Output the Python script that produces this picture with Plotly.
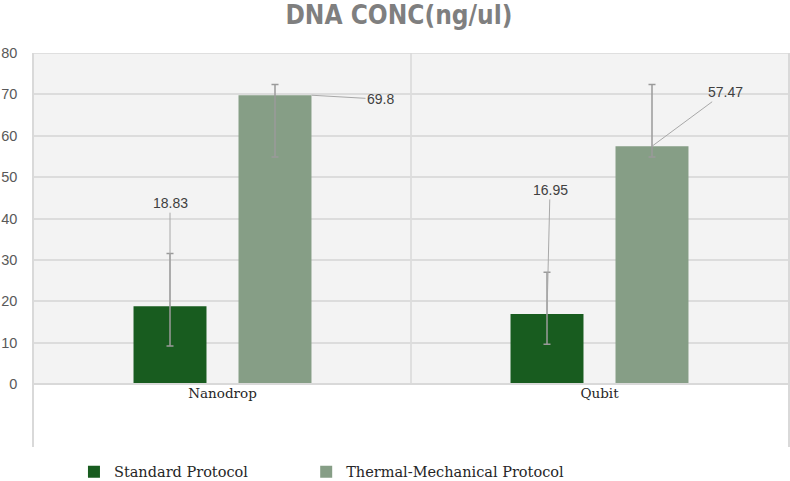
import plotly.graph_objects as go

categories = ["Nanodrop", "Qubit"]
series_names = ["Standard Protocol", "Thermal-Mechanical Protocol"]
standard_vals = [18.83, 16.95]
thermal_vals = [69.8, 57.47]
standard_err_plus = [12.7, 10.1]
standard_err_minus = [9.6, 7.3]
thermal_err_plus = [2.6, 14.9]
thermal_err_minus = [14.9, 2.6]
y_ticks = [0, 10, 20, 30, 40, 50, 60, 70, 80]

colors = ["#185c1f", "#869e86"]
err_style = dict(type="data", symmetric=False, color="#9a9a9a", thickness=1.5, width=3.5)

fig = go.Figure()
fig.add_trace(go.Bar(
    x=categories, y=standard_vals, name=series_names[0], legend="legend",
    marker=dict(color=colors[0], line=dict(width=0)),
    error_y=dict(array=standard_err_plus, arrayminus=standard_err_minus, **err_style),
))
fig.add_trace(go.Bar(
    x=categories, y=thermal_vals, name=series_names[1], legend="legend2",
    marker=dict(color=colors[1], line=dict(width=0)),
    error_y=dict(array=thermal_err_plus, arrayminus=thermal_err_minus, **err_style),
))

ymin = -15.2
ymax = 80

label_font = dict(family="Liberation Sans, Arial, sans-serif", size=14, color="#404040")
line_col = "#a8a8a8"
# data labels with leader lines (offsets in px)
label_specs = [
    (0, 0, standard_vals[0], -52.5, 0, -103),
    (0, 1, thermal_vals[0], 89, 69, 4),
    (1, 0, standard_vals[1], -52.5, 3, -124),
    (1, 1, thermal_vals[1], 52.5, 73, -54),
]
for ci, si, val, xs, ax, ay in label_specs:
    fig.add_annotation(
        x=categories[ci], y=val, xref="x", yref="y", xshift=xs,
        text=f"{val:g}", showarrow=True, arrowhead=0, arrowwidth=1,
        arrowcolor=line_col, ax=ax, ay=ay, font=label_font,
        standoff=0, startstandoff=0,
    )

shapes = [
    # hatched-looking background above zero
    dict(type="rect", xref="paper", yref="y", x0=0, x1=1, y0=0, y1=ymax,
         fillcolor="#f3f3f3", line=dict(width=0), layer="below"),
    # category separator
    dict(type="line", xref="x", yref="y", x0=0.5, x1=0.5, y0=0, y1=ymax,
         line=dict(color="#d9d9d9", width=1.5), layer="below"),
    # top border
    dict(type="line", xref="paper", yref="y", x0=0, x1=1, y0=ymax, y1=ymax,
         line=dict(color="#d9d9d9", width=1.5), layer="below"),
]

legend_common = dict(orientation="h", xanchor="left", y=-0.063, yanchor="middle",
                     font=dict(family="DejaVu Serif, serif", size=14.5, color="#262626"),
                     itemwidth=30, bgcolor="rgba(0,0,0,0)")

fig.update_layout(
    width=790, height=481,
    margin=dict(l=34, r=2, t=53, b=34, autoexpand=False),
    paper_bgcolor="white", plot_bgcolor="white",
    barmode="group", bargap=0.443, bargroupgap=0.305,
    title=dict(text="<b>DNA CONC(ng/ul)</b>", x=0.505, xanchor="center", y=0.969, yanchor="middle",
               font=dict(family="DejaVu Sans Condensed, Roboto, sans-serif", size=26, color="#7f7f7f")),
    showlegend=True,
    legend=dict(x=0.053, **legend_common),
    legend2=dict(x=0.361, **legend_common),
    shapes=shapes,
    xaxis=dict(
        anchor="free", position=(0 - ymin) / (ymax - ymin),
        showline=True, linecolor="#d9d9d9", linewidth=1.5,
        showgrid=False, ticks="", ticklabelstandoff=-3,
        tickfont=dict(family="DejaVu Serif, serif", size=13.5, color="#262626"),
    ),
    yaxis=dict(
        range=[ymin, ymax], tickvals=y_ticks, showgrid=True, gridcolor="#dcdcdc", gridwidth=1.5,
        zeroline=False, showline=True, mirror=True, linecolor="#d9d9d9", linewidth=1.5,
        ticks="", ticklabelstandoff=12,
        tickfont=dict(family="Liberation Sans, Arial, sans-serif", size=14.5, color="#595959"),
    ),
)

fig.write_html("out.html")
